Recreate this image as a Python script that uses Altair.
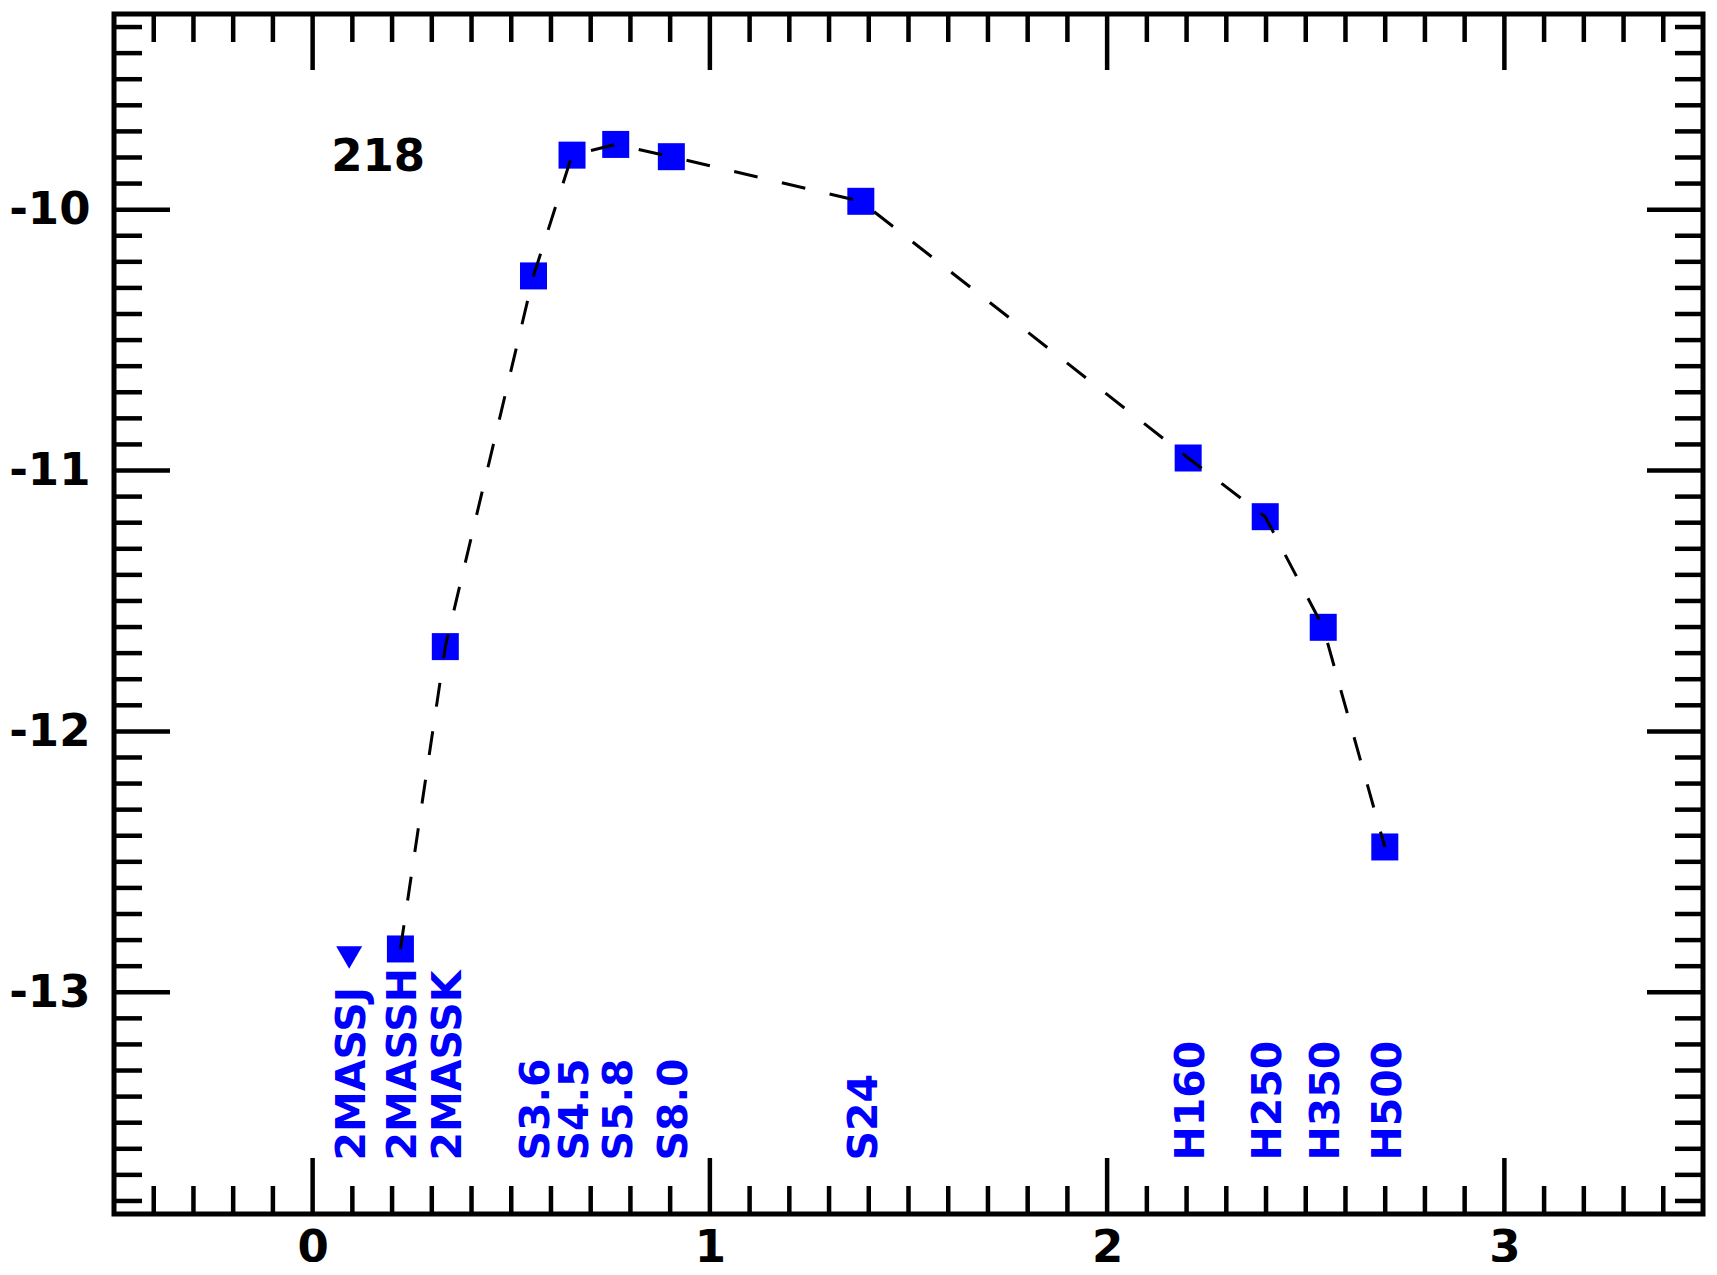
import altair as alt
import pandas as pd

# ---- data ----
band_names = ["2MASSJ", "2MASSH", "2MASSK", "S3.6", "S4.5", "S5.8", "S8.0",
              "S24", "H160", "H250", "H350", "H500"]
band_logwl = [0.092, 0.221, 0.334, 0.556, 0.653, 0.763, 0.903,
              1.380, 2.204, 2.398, 2.544, 2.699]
band_logf = [-12.867, -12.834, -11.675, -10.254, -9.791, -9.750, -9.797,
             -9.968, -10.952, -11.177, -11.601, -12.443]
band_upper = [True, False, False, False, False, False, False,
              False, False, False, False, False]

source_id = "218"
source_xy = [0.165, -9.80]
label_base_y = -13.645

x_tick_labels = [0, 1, 2, 3]
y_tick_labels = [-10, -11, -12, -13]
x_minor = [round(-0.4 + 0.1 * i, 1) for i in range(39)]
x_minor = [v for v in x_minor if v not in x_tick_labels]
y_minor = [round(-9.3 - 0.1 * i, 1) for i in range(46)]
y_minor = [v for v in y_minor if v not in y_tick_labels]

# ---- layout ----
W, H = 1589, 1200
MAJ, MIN = 56, 28
FONT = "DejaVu Sans"
BLUE = "#0000ff"

df = pd.DataFrame({"name": band_names, "x": band_logwl, "y": band_logf,
                   "upper": band_upper})
df["ly"] = label_base_y
det = df[~df["upper"]]
lim = df[df["upper"]]

x_scale = alt.Scale(domain=[-0.5, 3.5], nice=False, zero=False)
y_scale = alt.Scale(domain=[-13.85, -9.25], nice=False, zero=False)
x_axis = alt.Axis(values=x_tick_labels, ticks=False, domain=False, grid=False,
                  labelFont=FONT, labelFontSize=45, labelFontWeight="bold",
                  labelColor="black", labelPadding=11, labelFlush=False,
                  labelOverlap=False)
y_axis = alt.Axis(values=y_tick_labels, ticks=False, domain=False, grid=False,
                  labelExpr="'' + datum.value",
                  labelFont=FONT, labelFontSize=45, labelFontWeight="bold",
                  labelColor="black", labelPadding=24, labelOverlap=False)


def X(f):
    return alt.X(f"{f}:Q", scale=x_scale, axis=x_axis, title=None)


def Y(f):
    return alt.Y(f"{f}:Q", scale=y_scale, axis=y_axis, title=None)


def xticks(vals, length):
    d = pd.DataFrame({"v": vals})
    base = alt.Chart(d).mark_rule(color="black", strokeWidth=4.5)
    bot = base.encode(x=X("v"), y=alt.value(H), y2=alt.value(H - length))
    top = base.encode(x=X("v"), y=alt.value(0), y2=alt.value(length))
    return [bot, top]


def yticks(vals, length):
    d = pd.DataFrame({"v": vals})
    base = alt.Chart(d).mark_rule(color="black", strokeWidth=4.5)
    left = base.encode(y=Y("v"), x=alt.value(0), x2=alt.value(length))
    right = base.encode(y=Y("v"), x=alt.value(W), x2=alt.value(W - length))
    return [left, right]


ticks = xticks(x_minor, MIN) + xticks(x_tick_labels, MAJ) + \
    yticks(y_minor, MIN) + yticks(y_tick_labels, MAJ)

squares = alt.Chart(det).mark_point(shape="square", filled=True, size=729,
                                    color=BLUE, opacity=1).encode(x=X("x"), y=Y("y"))
tri = alt.Chart(lim).mark_point(shape="triangle-down", filled=True, size=676,
                                color=BLUE, opacity=1).encode(x=X("x"), y=Y("y"))
line = alt.Chart(det).mark_line(color="black", strokeWidth=3,
                                strokeDash=[24, 25]).encode(x=X("x"), y=Y("y"),
                                                             order="x:Q")
labels = alt.Chart(df).mark_text(angle=270, align="left", baseline="middle",
                                 font=FONT, fontSize=41, fontWeight="bold",
                                 color=BLUE, dy=4).encode(x=X("x"), y=Y("ly"),
                                                          text="name:N")
src = alt.Chart(pd.DataFrame({"x": [source_xy[0]], "y": [source_xy[1]],
                              "t": [source_id]})).mark_text(
    align="center", baseline="middle", font=FONT, fontSize=45,
    fontWeight="bold", color="black").encode(x=X("x"), y=Y("y"), text="t:N")

chart = alt.layer(*ticks, squares, tri, line, labels, src).properties(
    width=W, height=H,
    autosize=alt.AutoSizeParams(type="none"),
    padding={"left": 106, "top": 6, "right": 6, "bottom": 48},
    background="white",
).configure_view(stroke="black", strokeWidth=5, fill="white")

chart.save("out.html", embed_options={"renderer": "svg", "actions": False})
